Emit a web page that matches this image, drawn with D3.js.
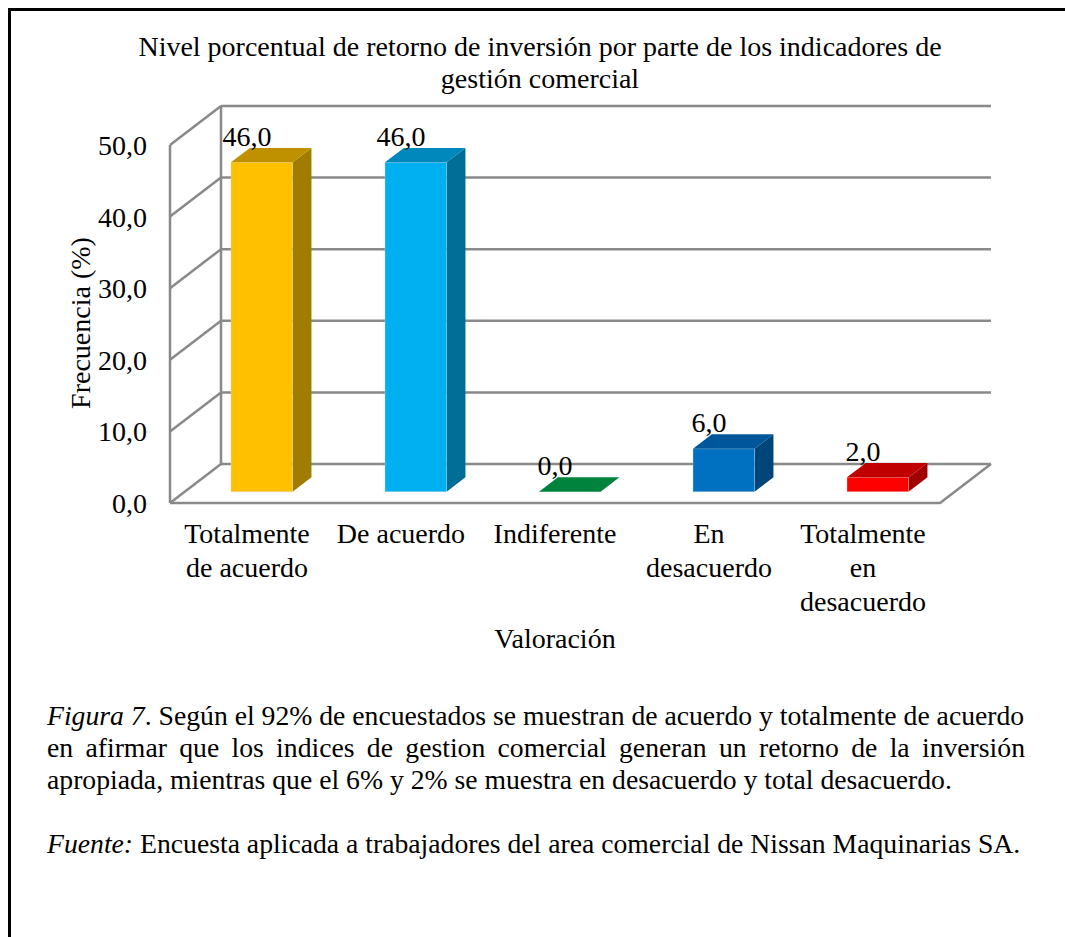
<!DOCTYPE html>
<html>
<head>
<meta charset="utf-8">
<script src="https://cdn.jsdelivr.net/npm/d3@7"></script>
<style>
  html, body { margin: 0; padding: 0; background: #fff; }
  svg { display: block; font-family: "Liberation Serif", "Times New Roman", serif; }
</style>
</head>
<body>
<svg id="chart" width="1065" height="937"></svg>
<script>
// data
var categories = [["Totalmente", "de acuerdo"], ["De acuerdo"], ["Indiferente"], ["En", "desacuerdo"], ["Totalmente", "en", "desacuerdo"]];
var values = [46.0, 46.0, 0.0, 6.0, 2.0];
var frontColors = ["#FFC000", "#00B0F0", "#00843D", "#0070C0", "#FF0000"];
var sideColors = ["#A07C00", "#006E96", "#005A29", "#00457A", "#A00000"];
var topColors = ["#BF9000", "#0088BC", "#006B31", "#00569A", "#C00000"];
var yTicks = [0, 10, 20, 30, 40, 50];
var titleLines = ["Nivel porcentual de retorno de inversión por parte de los indicadores de", "gestión comercial"];

var svg = d3.select("#chart");
var fmt = function (v) { return d3.format(".1f")(v).replace(".", ","); };
var FS = 28;

// 3D box geometry: front plane + depth offset
var x0 = 170, x1 = 940, depthX = 51, depthY = -39;
var x = d3.scaleBand().domain(d3.range(categories.length)).range([x0, x1]).paddingInner(0.6).paddingOuter(0.3);
var xc = d3.scaleBand().domain(d3.range(categories.length)).range([x0, x1]);
var y = d3.scaleLinear().domain([0, 50]).range([503, 145]);
var dFront = 0.29, dBack = 0.66;

function P(px, v, d) { return [px + d * depthX, y(v) + d * depthY]; }
function poly(pts) { return pts.map(function (p) { return p.join(","); }).join(" "); }

// frame
svg.append("line").attr("x1", 8).attr("x2", 1065).attr("y1", 9.5).attr("y2", 9.5).attr("stroke", "#000").attr("stroke-width", 3);
svg.append("line").attr("x1", 9.5).attr("x2", 9.5).attr("y1", 8).attr("y2", 937).attr("stroke", "#000").attr("stroke-width", 3);

// title
svg.append("g").selectAll("text").data(titleLines).join("text")
  .attr("x", 540).attr("y", function (d, i) { return 56 + i * 32; })
  .attr("text-anchor", "middle").attr("font-size", FS).attr("fill", "#000")
  .text(function (d) { return d; });

var grid = svg.append("g").attr("stroke", "#898989").attr("stroke-width", 2.5).attr("fill", "none");
// back wall gridlines + side wall diagonals
yTicks.forEach(function (t) {
  var a = P(x0, t, 1), b = P(x1, t, 1), f = P(x0, t, 0);
  grid.append("line").attr("x1", a[0]).attr("y1", a[1]).attr("x2", b[0]).attr("y2", b[1]);
  grid.append("line").attr("x1", f[0]).attr("y1", f[1]).attr("x2", a[0]).attr("y2", a[1]);
});
var tb = P(x0, 50, 1), bb = P(x0, 0, 1), tf = P(x0, 50, 0), bf = P(x0, 0, 0);
grid.append("line").attr("x1", tb[0]).attr("y1", tb[1]).attr("x2", bb[0]).attr("y2", bb[1]);
grid.append("line").attr("x1", tf[0]).attr("y1", tf[1]).attr("x2", bf[0]).attr("y2", bf[1]);
// floor outline
var fr = P(x1, 0, 0), br = P(x1, 0, 1);
grid.append("polyline").attr("points", poly([bf, fr, br]));

// tick labels
svg.append("g").selectAll("text").data(yTicks).join("text")
  .attr("x", 147).attr("y", function (d) { return y(d) + 10; })
  .attr("text-anchor", "end").attr("font-size", FS).attr("fill", "#000")
  .text(fmt);

// bars
var bars = svg.append("g").selectAll("g").data(values).join("g");
bars.each(function (v, i) {
  var g = d3.select(this);
  var xl = x(i), xr = x(i) + x.bandwidth();
  var fbl = P(xl, 0, dFront), fbr = P(xr, 0, dFront), ftl = P(xl, v, dFront), ftr = P(xr, v, dFront);
  var btl = P(xl, v, dBack), btr = P(xr, v, dBack), bbr = P(xr, 0, dBack);
  if (v > 0) {
    g.append("polygon").attr("points", poly([fbr, ftr, btr, bbr])).attr("fill", sideColors[i]);
    g.append("polygon").attr("points", poly([fbl, fbr, ftr, ftl])).attr("fill", frontColors[i])
      .attr("stroke", "#d9d9d9").attr("stroke-width", 0.6).attr("stroke-opacity", 0.6);
    g.append("polygon").attr("points", poly([ftl, ftr, btr, btl])).attr("fill", topColors[i]);
  } else {
    g.append("polygon").attr("points", poly([ftl, ftr, btr, btl])).attr("fill", frontColors[i]);
  }
  g.append("text")
    .attr("x", (xl + xr) / 2).attr("y", btl[1] - 2)
    .attr("text-anchor", "middle").attr("font-size", FS).attr("fill", "#000")
    .text(fmt(v));
});

// category labels
svg.append("g").selectAll("text").data(categories).join("text")
  .attr("text-anchor", "middle").attr("font-size", FS).attr("fill", "#000")
  .each(function (lines, i) {
    d3.select(this).selectAll("tspan").data(lines).join("tspan")
      .attr("x", xc(i) + xc.bandwidth() / 2).attr("y", function (d, k) { return 543 + k * 34; })
      .text(function (d) { return d; });
  });

// axis titles
svg.append("text").attr("x", 555).attr("y", 648).attr("text-anchor", "middle").attr("font-size", FS).text("Valoración");
svg.append("text").attr("transform", "translate(90,323) rotate(-90)").attr("text-anchor", "middle").attr("font-size", FS).text("Frecuencia (%)");

// caption
var cap = svg.append("g").attr("font-size", 27.7).attr("fill", "#000");
var l1 = cap.append("text").attr("x", 47).attr("y", 725);
l1.append("tspan").attr("font-style", "italic").text("Figura 7");
l1.append("tspan").text(". Según el 92% de encuestados se muestran de acuerdo y totalmente de acuerdo");
var line2 = "en afirmar que los indices de gestion comercial generan un retorno de la inversión";
var l2 = cap.append("text").attr("x", 47).attr("y", 757).text(line2);
var natural = l2.node().getComputedTextLength();
l2.attr("word-spacing", (1025 - 47 - natural) / (line2.split(" ").length - 1));
cap.append("text").attr("x", 47).attr("y", 789)
  .text("apropiada, mientras que el 6% y 2% se muestra en desacuerdo y total desacuerdo.");
var l4 = cap.append("text").attr("x", 47).attr("y", 853);
l4.append("tspan").attr("font-style", "italic").text("Fuente:");
l4.append("tspan").text(" Encuesta aplicada a trabajadores del area comercial de Nissan Maquinarias SA.");
</script>
</body>
</html>
